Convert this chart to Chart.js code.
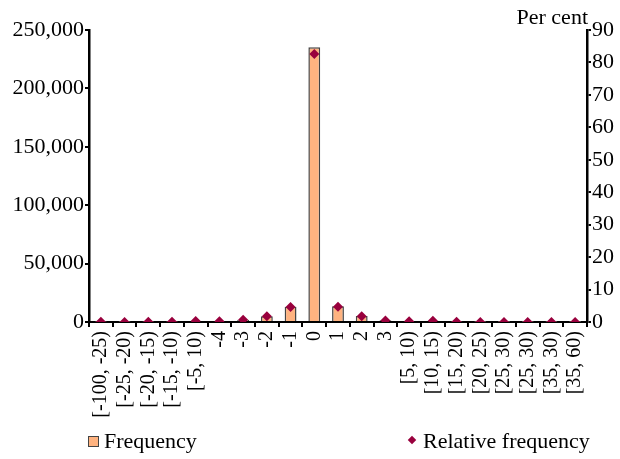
<!DOCTYPE html>
<html>
<head>
<meta charset="utf-8">
<script src="https://cdn.jsdelivr.net/npm/chart.js@4.4.0/dist/chart.umd.min.js"></script>
<style>
  body { margin: 0; background: #fff; }
  #wrap { position: relative; width: 620px; height: 459px; }
  #legend { position: absolute; left: 0; top: 429px; width: 620px; height: 26px;
    font-family: "Liberation Serif", serif; font-size: 22px; color: #000; }
  .item { position: absolute; top: 0; line-height: 24px; white-space: nowrap; }
  .box { display: inline-block; box-sizing: border-box; width: 11px; height: 11px; background: #FFB380;
    border: 1.5px solid #444; margin-right: 5px; vertical-align: 1px; }
  .dia { display: inline-block; width: 6px; height: 6px; background: #99003D;
    transform: rotate(45deg); margin-right: 8px; vertical-align: 5px; }
</style>
</head>
<body>
<div id="wrap">
  <canvas id="chart" width="620" height="459"></canvas>
  <div id="legend">
    <div class="item" style="left:88px"><span class="box"></span>Frequency</div>
    <div class="item" style="left:409px"><span class="dia"></span>Relative frequency</div>
  </div>
</div>
<script>
const categories = ['[-100, -25)', '[-25, -20)', '[-20, -15)', '[-15, -10)', '[-5, 10)',
  '-4', '-3', '-2', '-1', '0', '1', '2', '3',
  '[5, 10)', '[10, 15)', '[15, 20)', '[20, 25)', '[25, 30)', '[25, 30)', '[35, 30)', '[35, 60)'];
const frequency = [300, 100, 150, 300, 900, 600, 2000, 5000, 13000, 235200, 13500, 5200, 1400,
  700, 1100, 200, 100, 100, 50, 50, 50];
const relativeFrequency = [0.1, 0.0, 0.1, 0.1, 0.3, 0.2, 0.7, 1.8, 4.6, 82.6, 4.7, 1.8, 0.5,
  0.2, 0.4, 0.1, 0.0, 0.0, 0.0, 0.0, 0.0];

const serif = { family: '"Liberation Serif", serif', size: 22 };
const serifX = { family: '"Liberation Serif", serif', size: 20 };

// "Per cent" sits above the right axis
const perCent = {
  id: 'perCent',
  afterDraw(chart) {
    const ctx = chart.ctx;
    const s = chart.scales.y1;
    ctx.save();
    ctx.font = '22px "Liberation Serif", serif';
    ctx.fillStyle = '#000';
    ctx.textAlign = 'right';
    ctx.textBaseline = 'alphabetic';
    ctx.fillText('Per cent', s.left + 1, 24);
    ctx.restore();
  }
};

new Chart(document.getElementById('chart'), {
  type: 'bar',
  data: {
    labels: categories,
    datasets: [{
      type: 'line',
      label: 'Relative frequency',
      data: relativeFrequency,
      yAxisID: 'y1',
      showLine: false,
      pointStyle: 'rectRot',
      pointRadius: 5,
      backgroundColor: '#99003D',
      borderColor: '#99003D',
      borderWidth: 0,
      order: 1
    }, {
      type: 'bar',
      label: 'Frequency',
      data: frequency,
      yAxisID: 'y',
      backgroundColor: '#FFB380',
      borderColor: '#444',
      borderWidth: 1.5,
      barPercentage: 0.5,
      categoryPercentage: 1,
      order: 2
    }]
  },
  options: {
    responsive: false,
    animation: false,
    layout: { padding: { top: 30, left: 0, right: 0, bottom: 0 } },
    plugins: { legend: { display: false }, tooltip: { enabled: false } },
    scales: {
      x: {
        afterFit(scale) { scale.height = 137; },
        grid: { offset: true, drawOnChartArea: false, tickLength: 5, color: '#000', lineWidth: 2 },
        border: { color: '#000', width: 2 },
        ticks: { minRotation: 90, maxRotation: 90, autoSkip: false, color: '#000', font: serifX, padding: 4 }
      },
      y: {
        position: 'left',
        min: 0,
        max: 250000,
        afterFit(scale) { scale.width = 89; },
        ticks: { stepSize: 50000, color: '#000', font: serif, padding: 1,
          callback: v => v.toLocaleString('en-US') },
        grid: { drawOnChartArea: false, tickLength: 4, color: '#000', lineWidth: 2 },
        border: { color: '#000', width: 2.5 }
      },
      y1: {
        position: 'right',
        min: 0,
        max: 90,
        afterFit(scale) { scale.width = 33; },
        ticks: { stepSize: 10, color: '#000', font: serif, padding: 1 },
        grid: { drawOnChartArea: false, tickLength: 4, color: '#000', lineWidth: 2 },
        border: { color: '#000', width: 2.5 }
      }
    }
  },
  plugins: [perCent]
});
</script>
</body>
</html>
